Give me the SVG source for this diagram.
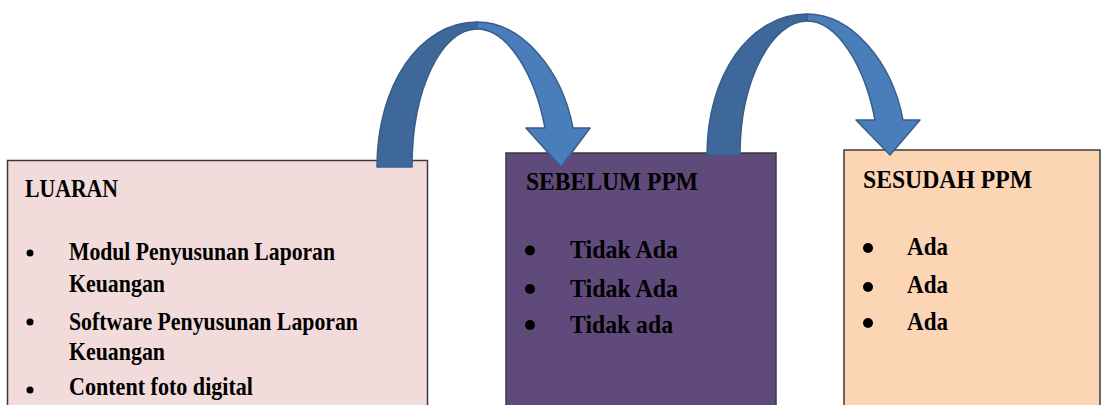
<svg xmlns="http://www.w3.org/2000/svg" width="1102" height="405" viewBox="0 0 1102 405">
<style>
.box{stroke:#3a3a3a;stroke-width:1.5}
.t{font-family:"Liberation Serif","Times New Roman",serif;font-weight:bold;font-size:26px;fill:#000}
.back{fill:#3d6899;stroke:#385d8a;stroke-width:1.5;stroke-linejoin:round}
.front{fill:#4a7ebb;stroke:#385d8a;stroke-width:1.5;stroke-linejoin:round}
.dot{fill:#000}
</style>
<rect width="1102" height="405" fill="#ffffff"/>
<g id="luaran">
<rect class="box" x="7.5" y="160.5" width="420" height="260" fill="#f2dcdb"/>
<text class="t" x="25" y="197" textLength="93" lengthAdjust="spacingAndGlyphs">LUARAN</text>
<circle class="dot" cx="30" cy="253" r="3.5"/>
<text class="t" x="69" y="260" textLength="266" lengthAdjust="spacingAndGlyphs">Modul Penyusunan Laporan</text>
<text class="t" x="69" y="292" textLength="96" lengthAdjust="spacingAndGlyphs">Keuangan</text>
<circle class="dot" cx="30" cy="322" r="3.5"/>
<text class="t" x="69" y="330" textLength="289" lengthAdjust="spacingAndGlyphs">Software Penyusunan Laporan</text>
<text class="t" x="69" y="360" textLength="96" lengthAdjust="spacingAndGlyphs">Keuangan</text>
<circle class="dot" cx="30" cy="390" r="3.5"/>
<text class="t" x="69" y="395" textLength="184" lengthAdjust="spacingAndGlyphs">Content foto digital</text>
</g>
<g id="sebelum">
<rect class="box" x="506" y="153" width="270" height="270" fill="#604a7b"/>
<text class="t" x="526" y="190" textLength="172" lengthAdjust="spacingAndGlyphs">SEBELUM PPM</text>
<circle class="dot" cx="530" cy="250.5" r="5"/>
<text class="t" x="570" y="258" textLength="108" lengthAdjust="spacingAndGlyphs">Tidak Ada</text>
<circle class="dot" cx="530" cy="289" r="5"/>
<text class="t" x="570" y="297" textLength="108" lengthAdjust="spacingAndGlyphs">Tidak Ada</text>
<circle class="dot" cx="530" cy="325" r="5"/>
<text class="t" x="570" y="333" textLength="103" lengthAdjust="spacingAndGlyphs">Tidak ada</text>
</g>
<g id="sesudah">
<rect class="box" x="844" y="150" width="256" height="270" fill="#fcd5b5"/>
<text class="t" x="863" y="188" textLength="169" lengthAdjust="spacingAndGlyphs">SESUDAH PPM</text>
<circle class="dot" cx="868" cy="248" r="5"/>
<text class="t" x="907" y="255" textLength="41" lengthAdjust="spacingAndGlyphs">Ada</text>
<circle class="dot" cx="868" cy="287" r="5"/>
<text class="t" x="907" y="293" textLength="41" lengthAdjust="spacingAndGlyphs">Ada</text>
<circle class="dot" cx="868" cy="323" r="5"/>
<text class="t" x="907" y="330" textLength="41" lengthAdjust="spacingAndGlyphs">Ada</text>
</g>
<g id="connectors">
<g id="arrow1">
<path class="back" d="M377,167 C377,85 420,22 477,22 L477,29 C442,29 412,88 412,167 Z"/>
<path class="front" d="M477,22 C522,22 562,70 573,128 L590,128 L561,167 L526,128 L545,128 C535,75 508,29 477,29 Z"/>
</g>
<g id="arrow2">
<path class="back" d="M707,155 C707,75 750,14 807,14 L807,21 C772,21 740,80 740,155 Z"/>
<path class="front" d="M807,14 C852,14 892,62 903,120 L920,120 L890,155 L856,120 L875,120 C865,67 838,21 807,21 Z"/>
</g>
</g>
</svg>
